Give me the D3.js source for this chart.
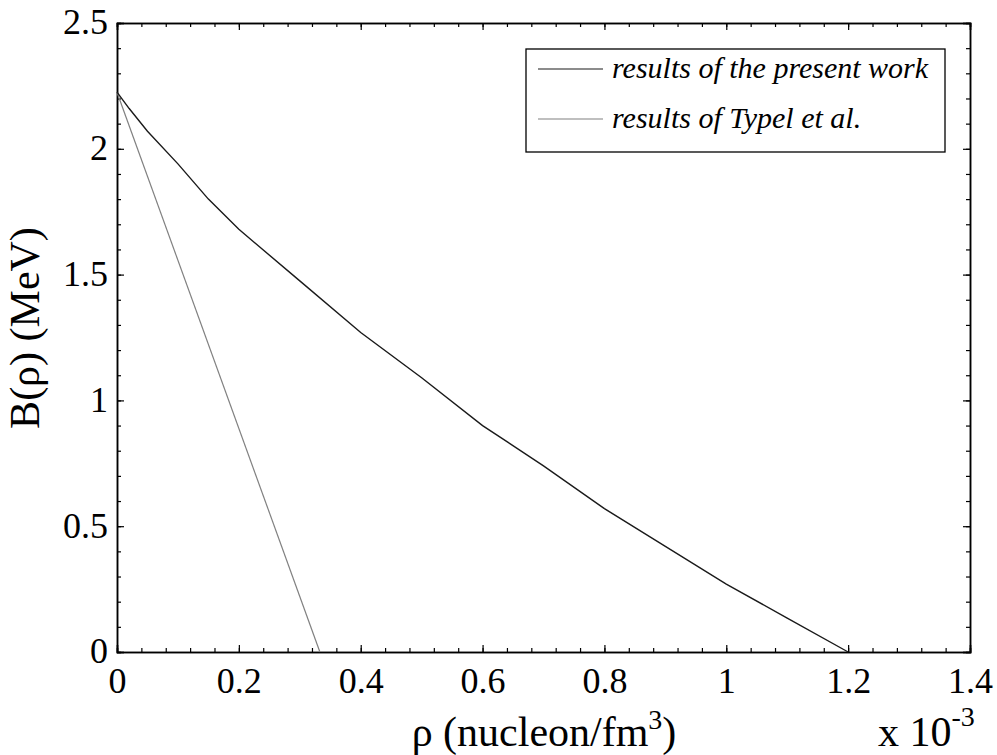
<!DOCTYPE html>
<html>
<head>
<meta charset="utf-8">
<script src="https://cdn.jsdelivr.net/npm/d3@7"></script>
<style>
  body { margin: 0; background: #fff; }
  text { font-family: "Liberation Serif", "Times New Roman", serif; }
</style>
</head>
<body>
<div id="chart"></div>
<script>
// density in units of 1e-3 nucleon/fm^3
const rhoPresent = [0, 0.02, 0.05, 0.1, 0.15, 0.2, 0.3, 0.4, 0.5, 0.6, 0.7, 0.8, 0.9, 1.0, 1.1, 1.2];
const bPresent = [2.225, 2.16, 2.07, 1.94, 1.80, 1.68, 1.475, 1.27, 1.09, 0.90, 0.74, 0.57, 0.42, 0.27, 0.135, 0.0];
const rhoTypel = [0, 0.333];
const bTypel = [2.225, 0.0];
const xTicks = [0, 0.2, 0.4, 0.6, 0.8, 1, 1.2, 1.4];
const yTicks = [0, 0.5, 1, 1.5, 2, 2.5];
const legendLabels = ["results of the present work", "results of Typel et al."];

(function () {
    const W = 997, H = 755;
    const margin = { top: 23, right: 27, bottom: 103, left: 117 };
    const width = W - margin.left - margin.right;
    const height = H - margin.top - margin.bottom;

    const svg = d3.select("#chart").append("svg")
        .attr("width", W)
        .attr("height", H);
    const g = svg.append("g").attr("transform", `translate(${margin.left},${margin.top})`);

    const x = d3.scaleLinear().domain([0, 1.4]).range([0, width]);
    const y = d3.scaleLinear().domain([0, 2.5]).range([height, 0]);

    const fmt = d => d3.format("~g")(d);
    const xMinor = d3.range(0, 1.4001, 0.04);
    const yMinor = d3.range(0, 2.5001, 0.1);

    function drawAxis(axis, transform, labels) {
        const a = g.append("g").attr("transform", transform).call(axis);
        a.select(".domain").attr("stroke", "#000").attr("stroke-width", 1.5);
        a.selectAll(".tick line").attr("stroke", "#000").attr("stroke-width", 1.2);
        if (!labels) a.selectAll(".tick text").remove();
        return a;
    }

    // minor ticks on all four sides (inward)
    drawAxis(d3.axisBottom(x).tickValues(xMinor).tickSize(-4).tickFormat(""), `translate(0,${height})`, false);
    drawAxis(d3.axisTop(x).tickValues(xMinor).tickSize(-4).tickFormat(""), "translate(0,0)", false);
    drawAxis(d3.axisLeft(y).tickValues(yMinor).tickSize(-4).tickFormat(""), "translate(0,0)", false);
    drawAxis(d3.axisRight(y).tickValues(yMinor).tickSize(-4).tickFormat(""), `translate(${width},0)`, false);

    const xa = drawAxis(d3.axisBottom(x).tickValues(xTicks).tickSize(-7).tickFormat(fmt), `translate(0,${height})`, true);
    xa.selectAll(".tick text")
        .attr("font-family", "Liberation Serif")
        .attr("font-size", 36)
        .attr("fill", "#000")
        .attr("dy", "0")
        .attr("y", 41);
    drawAxis(d3.axisTop(x).tickValues(xTicks).tickSize(-7).tickFormat(""), "translate(0,0)", false);

    const ya = drawAxis(d3.axisLeft(y).tickValues(yTicks).tickSize(-7).tickPadding(9).tickFormat(fmt), "translate(0,0)", true);
    ya.selectAll(".tick text")
        .attr("font-family", "Liberation Serif")
        .attr("font-size", 36)
        .attr("fill", "#000")
        .attr("dy", "0.3em");
    drawAxis(d3.axisRight(y).tickValues(yTicks).tickSize(-7).tickFormat(""), `translate(${width},0)`, false);

    // curves
    const line = d3.line().x(d => x(d[0])).y(d => y(d[1]));

    g.append("path")
        .datum(rhoTypel.map((r, i) => [r, bTypel[i]]))
        .attr("fill", "none")
        .attr("stroke", "#808080")
        .attr("stroke-width", 1.2)
        .attr("d", line);

    g.append("path")
        .datum(rhoPresent.map((r, i) => [r, bPresent[i]]))
        .attr("fill", "none")
        .attr("stroke", "#1a1a1a")
        .attr("stroke-width", 1.4)
        .attr("d", line);

    // legend
    const lg = svg.append("g").attr("transform", "translate(526,49)");
    lg.append("rect")
        .attr("width", 419).attr("height", 103)
        .attr("fill", "#fff").attr("stroke", "#000").attr("stroke-width", 1.3);
    const legendColors = ["#1a1a1a", "#808080"];
    legendLabels.forEach((lab, i) => {
        const cy = 20 + i * 50;
        lg.append("line")
            .attr("x1", 12).attr("x2", 77)
            .attr("y1", cy).attr("y2", cy)
            .attr("stroke", legendColors[i]).attr("stroke-width", 1.2);
        lg.append("text")
            .attr("x", 86).attr("y", cy + 9)
            .attr("font-size", 30)
            .attr("font-style", "italic")
            .attr("fill", "#000")
            .text(lab);
    });

    // axis labels
    svg.append("text")
        .attr("transform", `translate(39,328) rotate(-90)`)
        .attr("text-anchor", "middle")
        .attr("font-size", 42)
        .text("B(ρ) (MeV)");

    const xl = svg.append("text")
        .attr("x", 544).attr("y", 746)
        .attr("text-anchor", "middle")
        .attr("font-size", 42);
    xl.append("tspan").text("ρ (nucleon/fm");
    xl.append("tspan").attr("font-size", 28).attr("dy", -17).text("3");
    xl.append("tspan").attr("dy", 17).text(")");

    const ex = svg.append("text")
        .attr("x", 878).attr("y", 746)
        .attr("font-size", 42);
    ex.append("tspan").text("x 10");
    ex.append("tspan").attr("font-size", 28).attr("dy", -20).text("-3");
})();
</script>
</body>
</html>
